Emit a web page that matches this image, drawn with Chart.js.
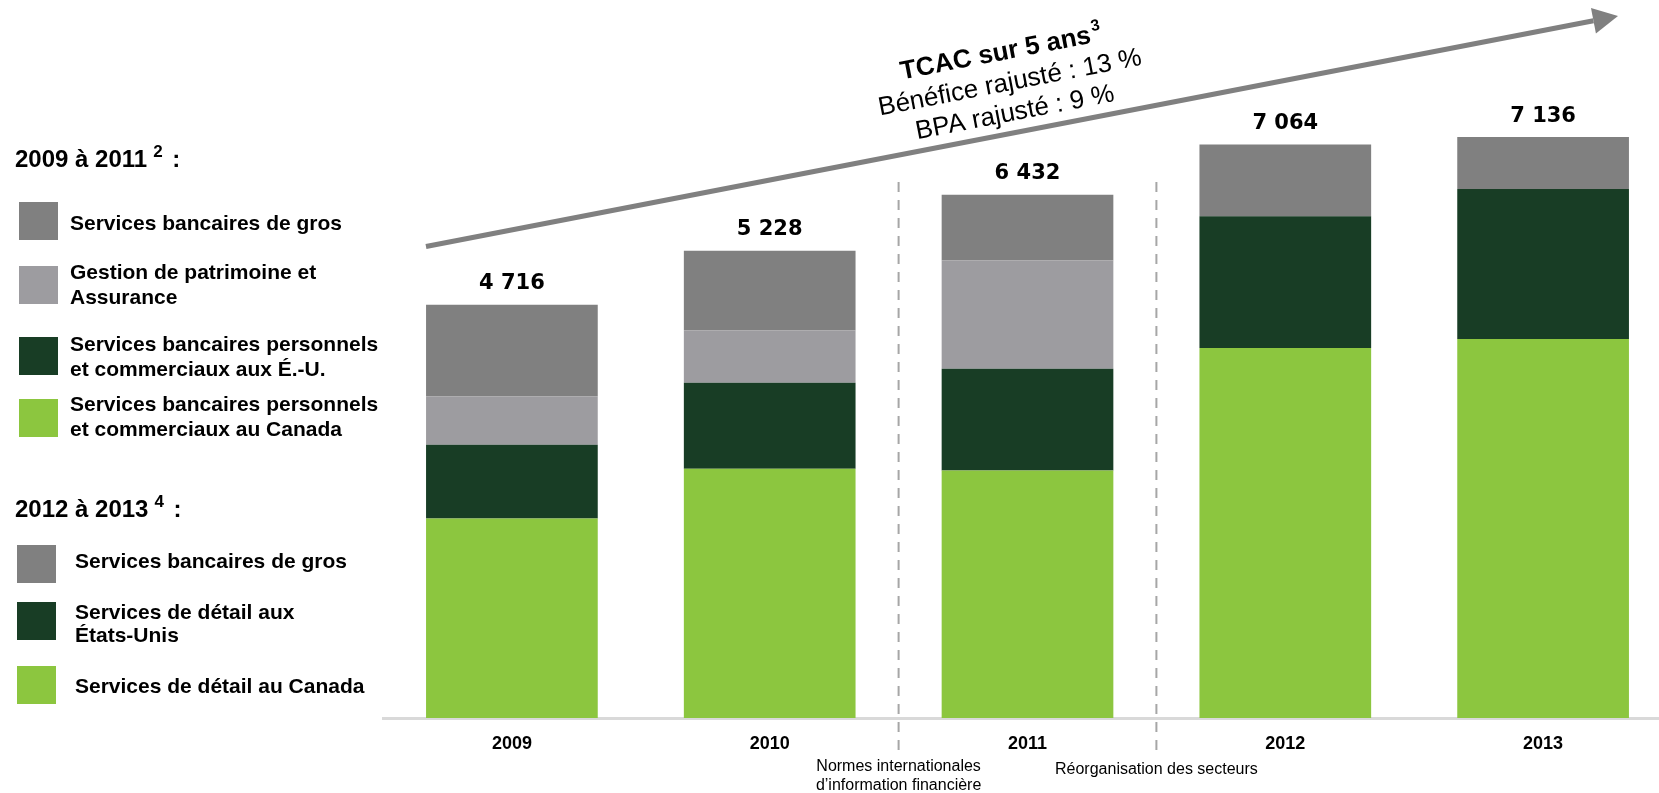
<!DOCTYPE html>
<html lang="fr">
<head>
<meta charset="utf-8">
<script src="https://cdn.jsdelivr.net/npm/chart.js@4.4.1/dist/chart.umd.min.js"></script>
<style>
  html, body { margin: 0; padding: 0; background: #fff; overflow: hidden; }
  #wrap { width: 1680px; height: 793px; }
</style>
</head>
<body>
<div id="wrap"><canvas id="c" width="1680" height="793"></canvas></div>
<script>
// Données
const annees = ['2009', '2010', '2011', '2012', '2013']
const detailCanada = [2454, 3065, 3044, 4550, 4660]
const detailEU = [907, 1058, 1251, 1619, 1847]
const patrimoine = [594, 643, 1332, null, null]
const gros = [1128, 980, 807, 883, 637]
const totaux = [4716, 5228, 6432, 7064, 7136]

const legendeA = ['Services bancaires de gros', 'Gestion de patrimoine et\nAssurance', 'Services bancaires personnels\net commerciaux aux É.-U.', 'Services bancaires personnels\net commerciaux au Canada']
const legendeB = ['Services bancaires de gros', 'Services de détail aux\nÉtats-Unis', 'Services de détail au Canada']

// Couleurs
const C = {
  gros: '#808080',
  patrimoine: '#9d9ca0',
  eu: '#183d25',
  canada: '#8cc63f',
  axe: '#d9d9d9',
  tirets: '#a6a6a6',
  fleche: '#808080',
}

const SANS = '"Liberation Sans", Arial, sans-serif'

// Helper : nombre avec espace comme séparateur de milliers
const fmt = n => String(n).replace(/\B(?=(\d{3})+(?!\d))/g, ' ')

// Helper : texte + exposant, renvoie la position x de fin
function texteExposant(ctx, txt, sup, x, y, taille, supTaille, gras, centre, ecart = 2) {
  const poids = gras ? 'bold ' : ''
  ctx.font = `${poids}${taille}px ${SANS}`
  const w = ctx.measureText(txt).width
  ctx.font = `${poids}${supTaille}px ${SANS}`
  const ws = ctx.measureText(sup).width
  const x0 = centre ? x - (w + ws + ecart) / 2 : x
  ctx.textAlign = 'left'
  ctx.font = `${poids}${taille}px ${SANS}`
  ctx.fillText(txt, x0, y)
  ctx.font = `${poids}${supTaille}px ${SANS}`
  ctx.fillText(sup, x0 + w + ecart, y - taille * 0.33)
  return x0 + w + ecart + ws
}

const decor = {
  id: 'decor',
  afterDraw(chart) {
    const { ctx } = chart
    const xs = chart.scales.x
    const ys = chart.scales.y
    ctx.save()
    ctx.fillStyle = '#000'
    ctx.textBaseline = 'middle'

    // ─── Totaux au-dessus des barres ───
    ctx.font = `bold 21px "DejaVu Sans", Verdana, sans-serif`
    ctx.textAlign = 'center'
    annees.forEach((a, i) => {
      const somme = detailCanada[i] + detailEU[i] + (patrimoine[i] || 0) + gros[i]
      ctx.fillText(fmt(totaux[i]), xs.getPixelForValue(i), ys.getPixelForValue(somme) - 21)
    })

    // ─── Lignes pointillées (changements de méthode) ───
    const sep1 = (xs.getPixelForValue(1) + xs.getPixelForValue(2)) / 2
    const sep2 = (xs.getPixelForValue(2) + xs.getPixelForValue(3)) / 2
    ctx.strokeStyle = C.tirets
    ctx.lineWidth = 2
    ctx.setLineDash([10, 8])
    ;[sep1, sep2].forEach(x => {
      ctx.beginPath()
      ctx.moveTo(x, 182)
      ctx.lineTo(x, 752)
      ctx.stroke()
    })
    ctx.setLineDash([])

    ctx.font = `16px ${SANS}`
    ctx.textAlign = 'center'
    ctx.fillText('Normes internationales', sep1, 767)
    ctx.fillText('d’information financière', sep1, 786)
    ctx.fillText('Réorganisation des secteurs', sep2, 770)

    // ─── Flèche de croissance ───
    const x1 = 426, y1 = 246.5, x2 = 1618, y2 = 16
    const ang = Math.atan2(y1 - y2, x2 - x1)
    const ux = Math.cos(ang), uy = -Math.sin(ang)
    const L = 25, W = 13
    ctx.strokeStyle = C.fleche
    ctx.fillStyle = C.fleche
    ctx.lineWidth = 5
    ctx.beginPath()
    ctx.moveTo(x1, y1)
    ctx.lineTo(x2 - ux * L, y2 - uy * L)
    ctx.stroke()
    ctx.beginPath()
    ctx.moveTo(x2, y2)
    ctx.lineTo(x2 - ux * L - uy * W, y2 - uy * L + ux * W)
    ctx.lineTo(x2 - ux * L + uy * W, y2 - uy * L - ux * W)
    ctx.closePath()
    ctx.fill()

    // ─── Texte TCAC (incliné) ───
    ctx.fillStyle = '#000'
    const lignesTcac = [
      { cx: 1001, cy: 53 },
      { cx: 1010, cy: 83, t: 'Bénéfice rajusté : 13 %' },
      { cx: 1015, cy: 113, t: 'BPA rajusté : 9 %' },
    ]
    lignesTcac.forEach((l, i) => {
      ctx.save()
      ctx.translate(l.cx, l.cy)
      ctx.rotate(-ang)
      if (i === 0) {
        texteExposant(ctx, 'TCAC sur 5 ans', '3', 0, 0, 26, 16, true, true)
      } else {
        ctx.font = `26px ${SANS}`
        ctx.textAlign = 'center'
        ctx.fillText(l.t, 0, 0)
      }
      ctx.restore()
    })

    // ─── Légendes ───
    const groupes = [
      { titre: '2009 à 2011', sup: '2', ty: 160, sx: 19, tx: 70, items: legendeA,
        couleurs: [C.gros, C.patrimoine, C.eu, C.canada],
        tops: [202, 266, 337, 399], lignes: [224, 273, 345, 405], pas: 25 },
      { titre: '2012 à 2013', sup: '4', ty: 510, sx: 17, tx: 75, items: legendeB,
        couleurs: [C.gros, C.eu, C.canada],
        tops: [545, 602, 666], lignes: [562, 613, 687], pas: 23 },
    ]
    groupes.forEach(g => {
      ctx.fillStyle = '#000'
      const fin = texteExposant(ctx, g.titre, g.sup, 15, g.ty, 24, 17, true, false, 6)
      ctx.font = `bold 24px ${SANS}`
      ctx.fillText(' :', fin + 3, g.ty)
      g.items.forEach((lib, i) => {
        ctx.fillStyle = g.couleurs[i]
        ctx.fillRect(g.sx, g.tops[i], 39, 38)
        ctx.fillStyle = '#000'
        ctx.font = `bold 21px ${SANS}`
        ctx.textAlign = 'left'
        lib.split('\n').forEach((t, k) => ctx.fillText(t, g.tx, g.lignes[i] + k * g.pas))
      })
    })

    ctx.restore()
  },
}

const barre = { categoryPercentage: 1, barPercentage: 0.666, borderWidth: 0 }

new Chart(document.getElementById('c'), {
  type: 'bar',
  data: {
    labels: annees,
    datasets: [
      { label: 'Services bancaires personnels et commerciaux au Canada', data: detailCanada, backgroundColor: C.canada, ...barre },
      { label: 'Services bancaires personnels et commerciaux aux É.-U.', data: detailEU, backgroundColor: C.eu, ...barre },
      { label: 'Gestion de patrimoine et Assurance', data: patrimoine, backgroundColor: C.patrimoine, ...barre },
      { label: 'Services bancaires de gros', data: gros, backgroundColor: C.gros, ...barre },
    ],
  },
  options: {
    responsive: false,
    animation: false,
    devicePixelRatio: 1,
    layout: { padding: { left: 383, right: 8, top: 100, bottom: 25 } },
    plugins: { legend: { display: false }, tooltip: { enabled: false } },
    scales: {
      x: {
        stacked: true,
        grid: { display: false, drawTicks: false },
        border: { color: C.axe, width: 3 },
        ticks: { color: '#000', font: { family: SANS, size: 18, weight: 'bold' }, padding: 15 },
        afterFit: s => { s.height = 50 },
      },
      y: { stacked: true, display: false, min: 0, max: 7600 },
    },
  },
  plugins: [decor],
})
</script>
</body>
</html>
